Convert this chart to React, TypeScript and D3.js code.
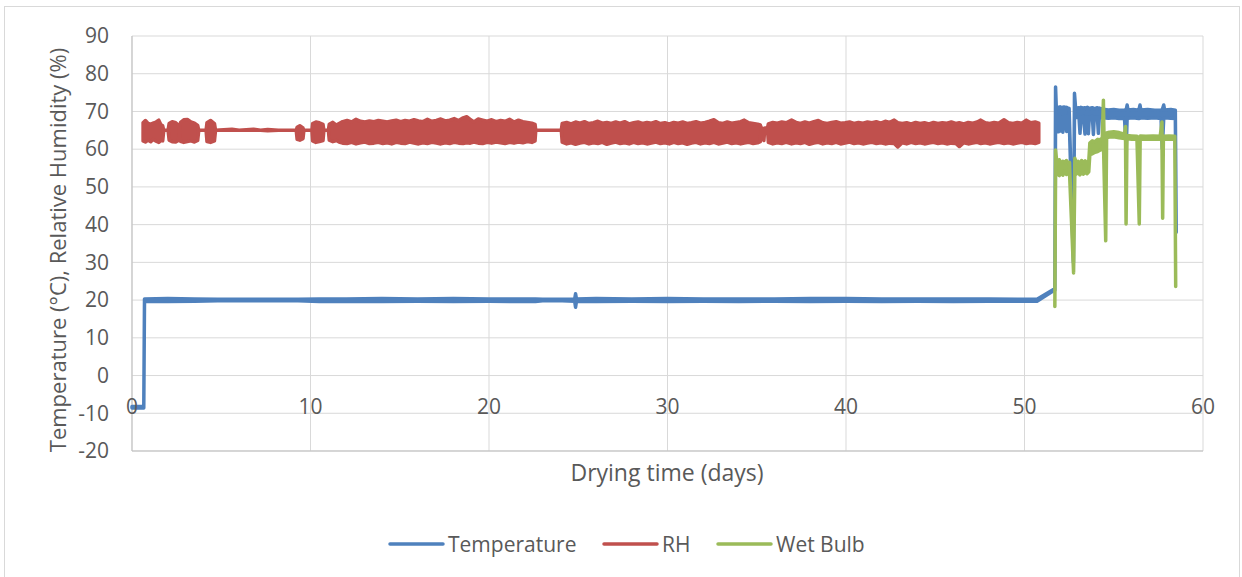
import React from 'react';
import * as d3 from 'd3';

// Each reading is [day, low, high]: the min/max envelope of the logged values
type Env = [number, number, number];

const X_TICKS = [0, 10, 20, 30, 40, 50, 60];
const Y_TICKS = [-20, -10, 0, 10, 20, 30, 40, 50, 60, 70, 80, 90];
const SERIES_NAMES = ['Temperature', 'RH', 'Wet Bulb'];
const SERIES_COLORS = ['#4f81bd', '#c0504d', '#9bbb59'];
const X_TITLE = 'Drying time (days)';
const Y_TITLE = 'Temperature (°C), Relative Humidity (%)';

const temperature: Env[] = [
  [0, -8.6, -8.2], [0.66, -8.6, -8.2],
  [0.7, 19.7, 20.3], [2, 19.6, 20.4], [3.5, 19.7, 20.3], [4.8, 19.8, 20.2],
  [9.3, 19.8, 20.2], [10.5, 19.6, 20.3], [12, 19.7, 20.3], [14, 19.6, 20.4],
  [16, 19.7, 20.3], [18, 19.6, 20.4], [20, 19.7, 20.3], [22.6, 19.6, 20.3],
  [23, 19.8, 20.2], [24.1, 19.8, 20.2], [24.8, 19.7, 20.3], [24.85, 18.1, 21.7],
  [24.9, 19.7, 20.3], [26, 19.6, 20.4], [28, 19.7, 20.3], [30, 19.6, 20.4],
  [32, 19.7, 20.3], [34, 19.6, 20.3], [36, 19.7, 20.3], [38, 19.6, 20.4],
  [40, 19.7, 20.4], [42, 19.6, 20.3], [44, 19.7, 20.3], [46, 19.6, 20.3],
  [48, 19.7, 20.3], [50.7, 19.7, 20.2],
  [51.62, 22.5, 22.8], [51.7, 22.6, 22.8], [51.74, 68.6, 76.5],
  [51.78, 68.8, 71.2], [51.85, 68.5, 70.9], [51.9, 64.6, 71.1], [51.94, 68.6, 71.0],
  [51.99, 64.8, 71.2], [52.03, 68.4, 70.9], [52.1, 68.6, 71.1], [52.15, 64.5, 71.0],
  [52.2, 68.5, 71.2], [52.3, 68.7, 71.0], [52.36, 64.7, 71.1], [52.41, 68.5, 70.9],
  [52.5, 68.4, 70.8], [52.74, 30.0, 30.0], [52.8, 68.5, 74.8], [52.86, 68.7, 71.1],
  [52.95, 68.4, 70.9], [53.05, 68.6, 71.0], [53.11, 64.2, 70.8], [53.16, 68.5, 71.1],
  [53.3, 68.7, 70.9], [53.39, 64.0, 71.0], [53.44, 68.6, 70.8], [53.53, 68.4, 71.1],
  [53.58, 64.1, 70.9], [53.63, 68.5, 70.8], [53.8, 68.7, 71.0], [53.86, 63.9, 70.9],
  [53.91, 68.5, 70.7], [54.08, 68.6, 71.0], [54.14, 64.2, 70.8], [54.19, 68.4, 70.9],
  [54.4, 68.3, 70.6], [54.7, 68.2, 70.4], [55.0, 68.3, 70.5], [55.3, 68.1, 70.3],
  [55.6, 68.2, 70.4], [55.7, 60.6, 70.5], [55.75, 68.3, 71.7], [55.8, 68.2, 70.4],
  [56.1, 68.3, 70.5], [56.4, 68.1, 70.3], [56.47, 68.2, 71.7], [56.52, 68.3, 70.4],
  [56.9, 68.2, 70.5], [57.3, 68.3, 70.3], [57.65, 68.1, 70.4], [57.72, 60.2, 70.5],
  [57.8, 68.2, 71.7], [57.85, 68.3, 70.4], [58.2, 68.2, 70.5], [58.45, 68.1, 70.3],
  [58.5, 38.0, 38.0],
];

const relativeHumidity: Env[] = [
  [0.62, 62.2, 67.0], [0.75, 61.9, 67.6], [0.9, 62.4, 66.8], [1.05, 62.0, 66.6],
  [1.18, 62.6, 66.9], [1.35, 62.1, 67.2], [1.5, 61.8, 67.7], [1.62, 62.3, 66.5],
  [1.72, 62.2, 66.2], [1.78, 65, 65], [2.02, 65, 65], [2.08, 62.4, 66.8],
  [2.25, 62.0, 67.3], [2.45, 61.9, 67.0], [2.6, 62.3, 66.4], [2.66, 64.8, 65.2],
  [2.72, 62.1, 67.1], [2.9, 61.8, 67.8], [3.1, 62.0, 67.9], [3.3, 62.2, 67.2],
  [3.5, 61.9, 66.9], [3.68, 62.3, 66.3], [3.74, 65, 65], [4.15, 65, 65],
  [4.2, 62.0, 67.0], [4.4, 61.8, 67.6], [4.62, 62.2, 66.8], [4.68, 65, 65],
  [5.6, 65, 65.3], [6.0, 65, 65], [6.8, 65, 65.3], [7.2, 65, 65], [7.6, 64.9, 65.2],
  [8.2, 65, 65], [9.2, 65, 65], [9.25, 62.6, 65.8], [9.4, 62.4, 66.2],
  [9.58, 62.8, 65.6], [9.63, 65, 65], [10.08, 65, 65], [10.12, 62.2, 66.8],
  [10.3, 61.8, 67.2], [10.5, 62.0, 67.0], [10.7, 62.3, 66.6], [10.75, 65, 65],
  [11.0, 65, 65], [11.05, 62.4, 66.6], [11.25, 62.0, 67.1], [11.45, 62.3, 66.4],
  [11.6, 61.9, 66.8], [11.8, 61.6, 67.3],
  [12.05, 61.5, 67.6], [12.3, 61.8, 67.2], [12.55, 61.4, 67.9], [12.8, 61.7, 67.4],
  [13.05, 61.9, 67.2], [13.3, 61.5, 67.5], [13.55, 61.6, 67.3], [13.8, 61.8, 67.6],
  [14.05, 61.5, 67.4], [14.3, 61.7, 67.2], [14.55, 61.4, 67.5], [14.8, 61.8, 67.7],
  [15.05, 61.6, 67.3], [15.3, 61.5, 67.6], [15.55, 61.9, 67.4], [15.8, 61.6, 67.8],
  [16.05, 61.4, 67.5], [16.3, 61.7, 67.3], [16.55, 61.5, 67.9], [16.8, 61.8, 67.4],
  [17.05, 61.6, 67.6], [17.3, 61.4, 68.0], [17.55, 61.7, 67.5], [17.8, 61.5, 67.7],
  [18.05, 61.8, 68.1], [18.3, 61.6, 67.6], [18.55, 61.5, 68.3], [18.75, 61.7, 68.6],
  [18.95, 61.6, 67.9], [19.15, 61.9, 67.2], [19.4, 61.6, 68.0], [19.65, 61.5, 67.7],
  [19.9, 61.8, 67.4], [20.15, 61.6, 67.8], [20.4, 61.9, 67.3], [20.65, 61.7, 67.6],
  [20.9, 61.5, 67.4], [21.15, 61.8, 67.9], [21.4, 61.6, 67.2], [21.65, 61.9, 67.7],
  [21.9, 61.7, 67.3], [22.15, 62.0, 67.1], [22.4, 61.8, 66.9], [22.58, 62.2, 66.6],
  [22.62, 65, 65], [24.05, 65, 65],
  [24.1, 61.9, 66.8], [24.35, 61.4, 67.1], [24.6, 61.7, 66.7], [24.85, 61.3, 67.2],
  [25.1, 61.6, 66.9], [25.35, 61.8, 67.3], [25.6, 61.4, 66.8], [25.85, 61.7, 67.0],
  [26.1, 61.5, 67.4], [26.35, 61.8, 66.9], [26.6, 61.3, 67.1], [26.85, 61.6, 66.8],
  [27.1, 61.9, 67.2], [27.35, 61.5, 66.9], [27.6, 61.7, 67.3], [27.85, 61.4, 66.7],
  [28.1, 61.8, 67.0], [28.35, 61.5, 67.2], [28.6, 61.7, 66.8], [28.85, 61.4, 67.1],
  [29.1, 61.6, 66.9], [29.35, 61.9, 67.3], [29.6, 61.5, 66.8], [29.85, 61.7, 67.0],
  [30.1, 61.4, 66.7], [30.35, 61.8, 67.1], [30.6, 61.5, 66.9], [30.85, 61.7, 67.2],
  [31.1, 61.3, 66.8], [31.35, 61.6, 67.0], [31.6, 61.8, 67.3], [31.85, 61.4, 66.9],
  [32.1, 61.7, 67.1], [32.35, 61.5, 67.4], [32.6, 61.8, 67.8], [32.85, 61.4, 67.0],
  [33.1, 61.6, 66.8], [33.35, 61.9, 67.2], [33.6, 61.5, 66.9], [33.85, 61.7, 67.1],
  [34.1, 61.4, 67.3], [34.3, 61.6, 67.7], [34.55, 61.8, 67.0], [34.8, 61.5, 66.8],
  [35.05, 61.7, 66.6], [35.2, 62.0, 66.4], [35.25, 65.4, 65.6], [35.4, 62.3, 65.5],
  [35.45, 65.4, 65.6], [35.6, 65.4, 65.6],
  [35.65, 61.8, 66.7], [35.9, 61.4, 67.1], [36.15, 61.7, 66.9], [36.4, 61.5, 67.2],
  [36.65, 61.8, 67.0], [36.95, 61.4, 67.7], [37.2, 61.7, 67.1], [37.45, 61.5, 66.8],
  [37.7, 61.8, 67.2], [37.95, 61.3, 66.9], [38.2, 61.6, 67.3], [38.45, 61.8, 67.6],
  [38.7, 61.4, 67.0], [38.95, 61.7, 66.8], [39.2, 61.5, 67.1], [39.45, 61.8, 67.3],
  [39.7, 61.4, 66.9], [39.95, 61.6, 67.0], [40.2, 61.9, 67.2], [40.45, 61.5, 66.8],
  [40.7, 61.7, 67.1], [40.95, 61.4, 66.9], [41.2, 61.6, 67.2], [41.45, 61.8, 67.0],
  [41.7, 61.5, 67.3], [41.95, 61.7, 66.9], [42.2, 61.4, 67.4], [42.45, 61.6, 67.1],
  [42.7, 61.5, 67.7], [42.9, 60.6, 67.0], [43.15, 61.7, 66.8], [43.4, 61.4, 67.0],
  [43.65, 61.8, 66.7], [43.9, 61.5, 67.1], [44.15, 61.7, 66.8], [44.4, 61.4, 67.0],
  [44.65, 61.6, 66.7], [44.9, 61.8, 67.1], [45.15, 61.5, 66.8], [45.4, 61.7, 67.0],
  [45.65, 61.4, 66.9], [45.9, 61.6, 67.2], [46.15, 61.5, 66.8], [46.35, 60.7, 67.0],
  [46.6, 61.7, 66.7], [46.85, 61.4, 67.1], [47.1, 61.6, 66.9], [47.35, 61.8, 67.2],
  [47.55, 61.5, 67.7], [47.8, 61.7, 67.0], [48.05, 61.4, 66.8], [48.3, 61.6, 67.1],
  [48.55, 61.8, 66.9], [48.85, 61.5, 67.8], [49.1, 61.7, 67.0], [49.35, 61.4, 66.8],
  [49.6, 61.6, 67.1], [49.85, 61.8, 66.9], [50.1, 61.5, 67.7], [50.35, 61.7, 67.0],
  [50.6, 61.5, 67.2], [50.8, 61.8, 66.9],
];

const wetBulb: Env[] = [
  [51.7, 18.3, 18.3], [51.74, 53.5, 59.8], [51.8, 53.2, 57.0], [51.88, 54.0, 56.2],
  [51.95, 53.0, 57.2], [52.05, 53.8, 56.0], [52.15, 53.1, 56.8], [52.25, 54.2, 56.5],
  [52.35, 53.3, 57.0], [52.45, 53.8, 56.3], [52.52, 54.0, 56.5], [52.75, 27.2, 27.2],
  [52.82, 53.6, 57.6], [52.9, 53.4, 56.4], [53.0, 53.9, 56.8], [53.1, 53.2, 56.2],
  [53.2, 53.8, 57.0], [53.3, 53.4, 56.3], [53.4, 53.9, 56.9], [53.5, 53.5, 56.4],
  [53.6, 54.0, 56.8], [53.66, 58.6, 61.6], [53.8, 58.8, 62.2], [53.95, 59.2, 62.0],
  [54.1, 59.4, 62.6], [54.25, 59.8, 62.5], [54.36, 60.0, 63.0], [54.42, 62.0, 73.0],
  [54.55, 35.7, 35.7], [54.6, 63.0, 64.3], [54.75, 63.2, 64.5], [55.0, 63.3, 64.6],
  [55.3, 63.0, 64.4], [55.6, 62.8, 64.0], [55.66, 62.8, 66.0], [55.69, 40.2, 40.2],
  [55.74, 62.8, 63.6], [56.0, 62.6, 63.5], [56.3, 62.7, 63.4], [56.43, 40.2, 40.2],
  [56.48, 62.6, 63.5], [56.8, 62.7, 63.4], [57.2, 62.6, 63.5], [57.6, 62.7, 63.4],
  [57.7, 62.6, 67.2], [57.74, 41.7, 41.7], [57.78, 62.6, 63.4], [58.1, 62.7, 63.5],
  [58.42, 62.6, 63.4], [58.47, 23.6, 23.6],
];

const SERIES: Env[][] = [temperature, relativeHumidity, wetBulb];

const W = 1242;
const H = 577;
const PLOT = { left: 132, right: 1203, top: 36, bottom: 451 };
const FONT = '"Open Sans", "DejaVu Sans", sans-serif';
const TEXT = '#595959';
const GRID = '#d9d9d9';
const LEGEND_X = [390, 604, 718];

export default function App() {
  const x = d3.scaleLinear().domain([0, 60]).range([PLOT.left, PLOT.right]);
  const y = d3.scaleLinear().domain([-20, 90]).range([PLOT.bottom, PLOT.top]);
  const band = d3
    .area<Env>()
    .x((d) => x(d[0]))
    .y0((d) => y(d[1]))
    .y1((d) => y(d[2]));

  return (
    <svg
      width={W}
      height={H}
      style={{ position: 'absolute', left: 0, top: 0, background: '#fff' }}
      fontFamily={FONT}
    >
      <rect x={4.5} y={6.5} width={1235} height={620} fill="#fff" stroke={GRID} />

      {Y_TICKS.map((t) => (
        <line key={'gy' + t} x1={PLOT.left} x2={PLOT.right} y1={y(t)} y2={y(t)} stroke={GRID} strokeWidth={1} />
      ))}
      {X_TICKS.map((t) => (
        <line key={'gx' + t} x1={x(t)} x2={x(t)} y1={PLOT.top} y2={PLOT.bottom} stroke={GRID} strokeWidth={1} />
      ))}
      <line x1={PLOT.left} x2={PLOT.left} y1={PLOT.top} y2={PLOT.bottom} stroke="#bfbfbf" />
      <line x1={PLOT.left} x2={PLOT.right} y1={PLOT.bottom} y2={PLOT.bottom} stroke="#bfbfbf" />

      {SERIES.map((s, i) => (
        <path
          key={SERIES_NAMES[i]}
          d={band(s) || ''}
          fill={SERIES_COLORS[i]}
          stroke={SERIES_COLORS[i]}
          strokeWidth={3.5}
          strokeLinejoin="round"
          strokeLinecap="round"
        />
      ))}

      {Y_TICKS.map((t) => (
        <text key={'ty' + t} x={109} y={y(t) + 7.3} textAnchor="end" fontSize={21} fill={TEXT}>
          {t}
        </text>
      ))}
      {X_TICKS.map((t) => (
        <text key={'tx' + t} x={x(t)} y={414} textAnchor="middle" fontSize={21} fill={TEXT}>
          {t}
        </text>
      ))}

      <text x={667} y={481} textAnchor="middle" fontSize={23} fill={TEXT}>
        {X_TITLE}
      </text>
      <text
        transform={`translate(66, 250) rotate(-90)`}
        textAnchor="middle"
        fontSize={22}
        fill={TEXT}
      >
        {Y_TITLE}
      </text>

      {SERIES_NAMES.map((name, i) => (
        <g key={'lg' + name}>
          <line
            x1={LEGEND_X[i]}
            x2={LEGEND_X[i] + 53}
            y1={544}
            y2={544}
            stroke={SERIES_COLORS[i]}
            strokeWidth={3.5}
            strokeLinecap="round"
          />
          <text x={LEGEND_X[i] + 58} y={551.5} fontSize={21} fill={TEXT}>
            {name}
          </text>
        </g>
      ))}
    </svg>
  );
}
